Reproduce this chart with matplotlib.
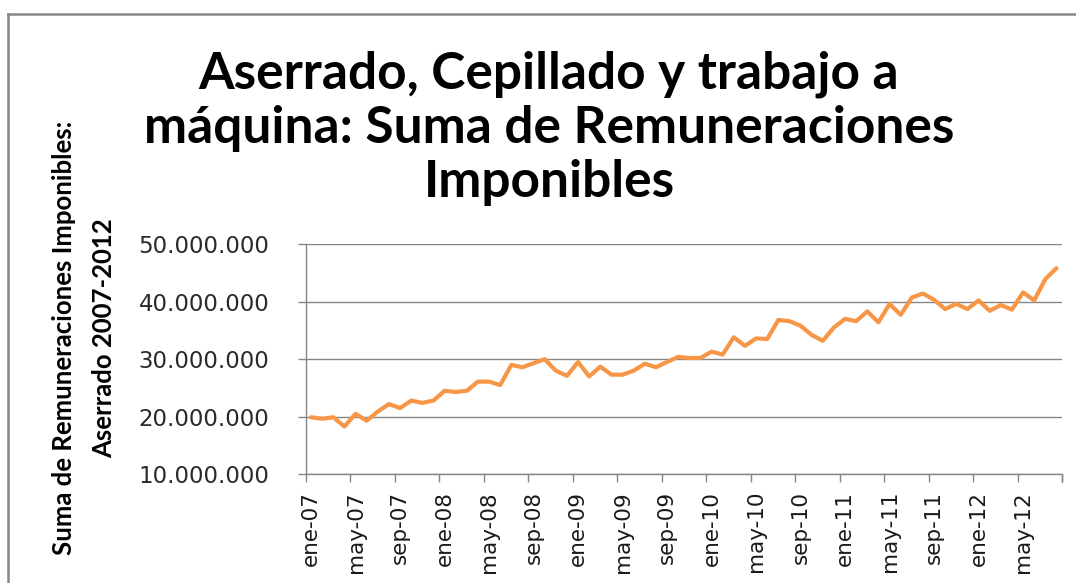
import matplotlib
matplotlib.use("Agg")
import matplotlib.pyplot as plt
from matplotlib.lines import Line2D
import numpy as np

plt.rcParams['font.family'] = ['Lato', 'DejaVu Sans']

# Monthly values (ene-07 .. ago-12), in millions of pesos
values_m = [19.9, 19.65, 19.9, 18.3, 20.5, 19.3, 20.9, 22.2, 21.5, 22.8, 22.4, 22.8,
            24.5, 24.3, 24.5, 26.1, 26.1, 25.5, 29.0, 28.6, 29.3, 30.0, 28.0, 27.1,
            29.5, 27.0, 28.7, 27.3, 27.3, 28.0, 29.2, 28.6, 29.5, 30.4, 30.2, 30.2,
            31.3, 30.8, 33.8, 32.3, 33.6, 33.5, 36.8, 36.6, 35.8, 34.2, 33.2, 35.5,
            37.0, 36.6, 38.3, 36.4, 39.6, 37.7, 40.7, 41.4, 40.3, 38.7, 39.6, 38.7,
            40.2, 38.4, 39.4, 38.6, 41.6, 40.2, 43.9, 45.8]
values = [v * 1_000_000 for v in values_m]

month_abbr = ['ene', 'feb', 'mar', 'abr', 'may', 'jun', 'jul', 'ago', 'sep', 'oct', 'nov', 'dic']
years = ['07', '08', '09', '10', '11', '12']
categories = [f"{m}-{y}" for y in years for m in month_abbr][:len(values)]

y_ticks = [10_000_000, 20_000_000, 30_000_000, 40_000_000, 50_000_000]
y_tick_labels = ['10.000.000', '20.000.000', '30.000.000', '40.000.000', '50.000.000']

title = "Aserrado, Cepillado y trabajo a\nmáquina: Suma de Remuneraciones\nImponibles"
ylabel = "Suma de Remuneraciones Imponibles:\nAserrado 2007-2012"

W, H = 1076, 583
fig = plt.figure(figsize=(W / 100, H / 100), dpi=100)
fig.patch.set_facecolor('white')

ax = fig.add_axes([305.5 / W, 1 - 474.3 / H, (1062 - 305.5) / W, (474.3 - 244) / H])

x = np.arange(len(values))
ax.plot(x, values, color='#F79646', lw=3.0, solid_joinstyle='round', solid_capstyle='round', zorder=3)

ax.set_xlim(-0.5, len(values) - 0.5)
ax.set_ylim(10_000_000, 50_000_000)

grid_c = '#868686'
tick_font = 'DejaVu Sans'
ax.set_yticks(y_ticks)
ax.set_yticklabels(y_tick_labels, family=tick_font)
for yv in y_ticks:
    ax.axhline(yv, color=grid_c, lw=1.0, zorder=1)

# major ticks at category boundaries (every 4), labels at category centres
ax.set_xticks(np.arange(-0.5, len(values), 4).tolist() + [len(values) - 0.5])
ax.set_xticklabels([])
lab_pos = list(range(0, len(values), 4))
ax.set_xticks(lab_pos, minor=True)
ax.set_xticklabels([categories[i] for i in lab_pos], minor=True, rotation=90,
                   fontsize=15.5, color='#1a1a1a', family=tick_font)
ax.tick_params(axis='x', which='minor', length=0, pad=12)
ax.tick_params(axis='x', which='major', length=6, direction='out', color=grid_c, width=1)
ax.tick_params(axis='y', length=6, direction='out', color=grid_c, width=1,
               labelsize=16.5, labelcolor='#2a2a2a', pad=20)

for s in ['top', 'right']:
    ax.spines[s].set_visible(False)
ax.spines['left'].set_color(grid_c)
ax.spines['bottom'].set_color(grid_c)
ax.spines['left'].set_linewidth(1)
ax.spines['bottom'].set_linewidth(1)
ax.set_facecolor('white')

fig.text(549 / W, 1 - 128 / H, title, ha='center', va='center', fontsize=37,
         fontweight='bold', color='black', linespacing=1.18)
fig.text(84 / W, 1 - 338 / H, ylabel, ha='center', va='center', rotation=90,
         fontsize=18.5, fontweight='bold', color='black', linespacing=1.8)

# chart frame (left and top edges visible)
fig.add_artist(Line2D([8 / W, 8 / W], [0, 1 - 14 / H], transform=fig.transFigure,
                      color='#868686', lw=1.8))
fig.add_artist(Line2D([8 / W, 1], [1 - 14 / H, 1 - 14 / H], transform=fig.transFigure,
                      color='#868686', lw=1.8))

fig.savefig('out.png', dpi=100, facecolor='white')
